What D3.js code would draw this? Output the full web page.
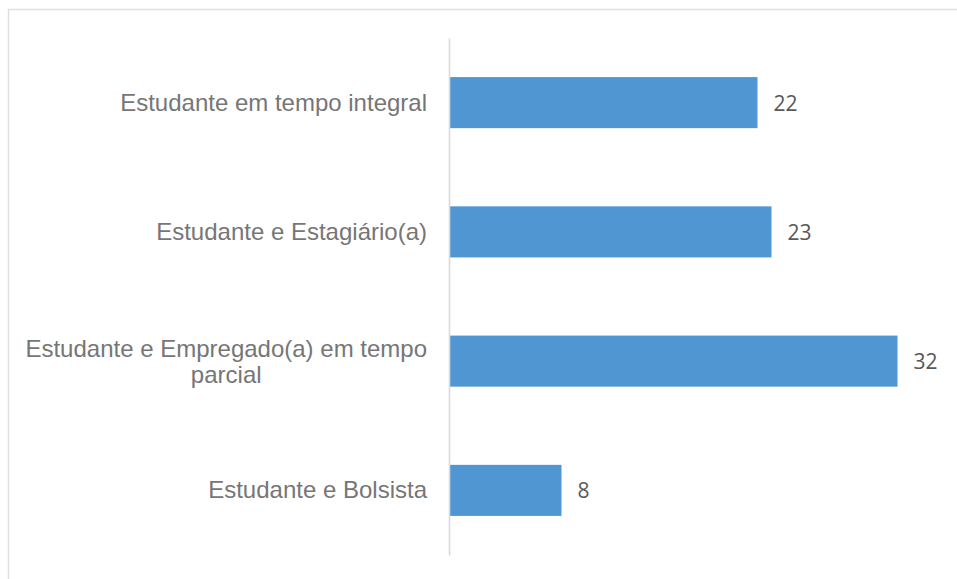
<!DOCTYPE html>
<html>
<head>
<meta charset="utf-8">
<script src="https://cdn.jsdelivr.net/npm/d3@7"></script>
<style>
  html, body { margin: 0; padding: 0; background: #ffffff; }
  svg { display: block; }
</style>
</head>
<body>
<svg id="chart" width="957" height="579"></svg>
<script>
// Data
const categories = [
  ["Estudante em tempo integral"],
  ["Estudante e Estagiário(a)"],
  ["Estudante e Empregado(a) em tempo", "parcial"],
  ["Estudante e Bolsista"]
];
const values = [22, 23, 32, 8];
const xDomainMax = 32;

const svg = d3.select("#chart");
const W = 957, H = 579;

// Chart border (cropped at right/bottom)
svg.append("rect")
  .attr("x", 8.5).attr("y", 9.5)
  .attr("width", W).attr("height", H)
  .attr("fill", "#ffffff")
  .attr("stroke", "#e0e0e0")
  .attr("stroke-width", 1.5);

const ids = categories.map((c, i) => i);
const y = d3.scaleBand()
  .domain(ids)
  .range([38, 555])
  .paddingInner(0.605)
  .paddingOuter(0.3025);

const x = d3.scaleLinear()
  .domain([0, xDomainMax])
  .range([449.5, 897.5]);

// Bars
svg.append("g").selectAll("rect")
  .data(values)
  .join("rect")
  .attr("x", x(0))
  .attr("y", (d, i) => y(i))
  .attr("width", d => x(d) - x(0))
  .attr("height", y.bandwidth())
  .attr("fill", "#4f96d3");

// Vertical axis line
const yAxis = d3.axisLeft(y).tickSize(0).tickFormat("");
const gAxis = svg.append("g")
  .attr("transform", `translate(${x(0) - 0.5},0)`)
  .call(yAxis);
gAxis.select(".domain")
  .attr("stroke", "#d9d9d9")
  .attr("stroke-width", 1.6);

// Category labels
const labelRight = 427;
const lineH = 26;
const fs = 24;
const labelFont = "'Liberation Sans', Arial, sans-serif";
categories.forEach((lines, i) => {
  const cy = y(i) + y.bandwidth() / 2;
  const g = svg.append("g");
  if (lines.length === 1) {
    g.append("text")
      .attr("x", labelRight)
      .attr("y", cy + 8)
      .attr("text-anchor", "end")
      .attr("font-family", labelFont)
      .attr("font-size", fs)
      .attr("fill", "#767676")
      .text(lines[0]);
  } else {
    const t0 = g.append("text")
      .attr("x", labelRight)
      .attr("y", cy + 9 - lineH / 2)
      .attr("text-anchor", "end")
      .attr("font-family", labelFont)
      .attr("font-size", fs)
      .attr("fill", "#767676")
      .text(lines[0]);
    const w0 = t0.node().getComputedTextLength();
    const center = labelRight - w0 / 2;
    for (let k = 1; k < lines.length; k++) {
      g.append("text")
        .attr("x", center)
        .attr("y", cy + 9 - lineH / 2 + k * lineH)
        .attr("text-anchor", "middle")
        .attr("font-family", labelFont)
        .attr("font-size", fs)
        .attr("fill", "#767676")
        .text(lines[k]);
    }
  }
});

// Value labels
svg.append("g").selectAll("text")
  .data(values)
  .join("text")
  .attr("x", d => x(d) + 16)
  .attr("y", (d, i) => y(i) + y.bandwidth() / 2 + 8)
  .attr("font-family", "'Open Sans', sans-serif")
  .attr("font-size", 21)
  .attr("fill", "#595959")
  .text(d => d);
</script>
</body>
</html>
